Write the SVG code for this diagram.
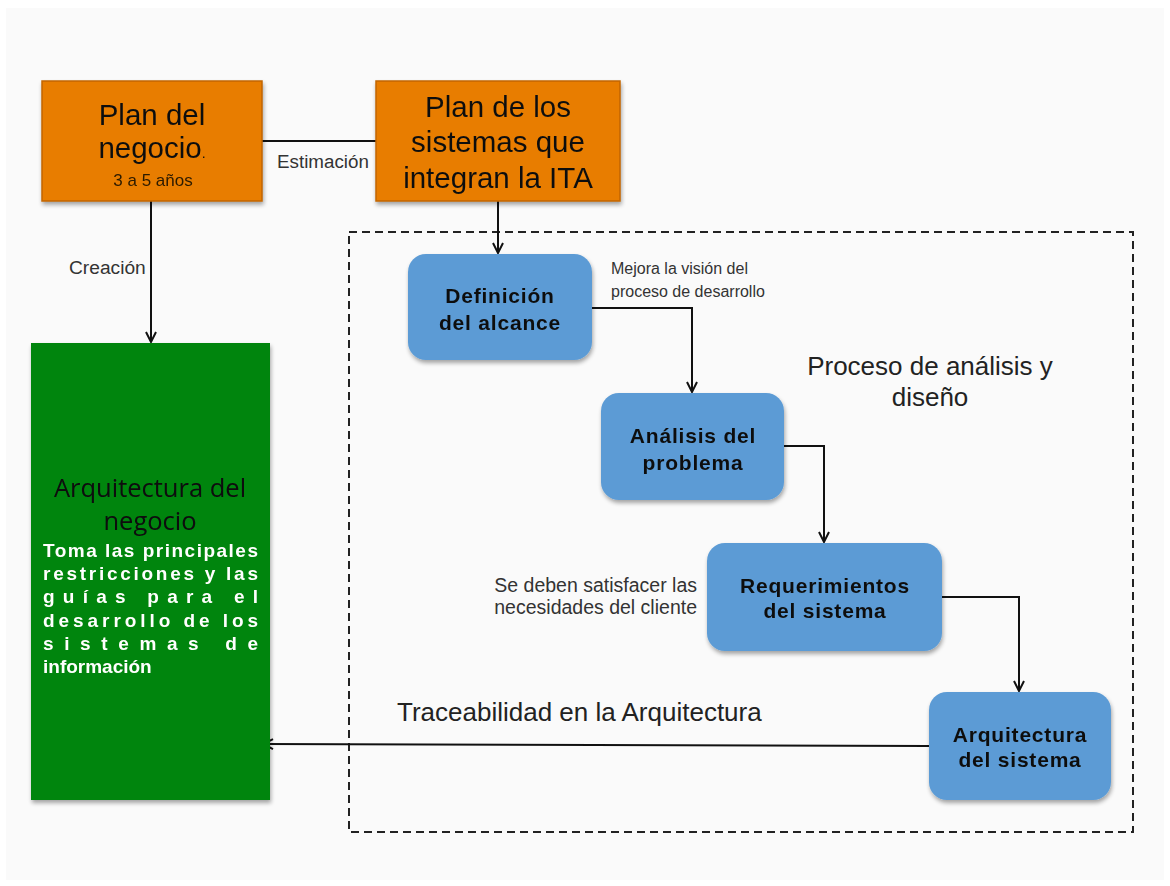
<svg xmlns="http://www.w3.org/2000/svg" width="1170" height="886" viewBox="0 0 1170 886">
  <style>
    .plan { fill: #e87d00; stroke: #c26600; stroke-width: 1.5; }
    .stage { fill: #5b9bd5; }
    .biz { fill: #04850a; }
    .wire { fill: none; stroke: #111; stroke-width: 2; }
    .head { font-family: "Liberation Sans", Arial, sans-serif; font-size: 29.5px; fill: #111; text-anchor: middle; }
    .small { font-family: "Liberation Sans", Arial, sans-serif; font-size: 16px; fill: #333; }
    .mid { font-family: "Liberation Sans", Arial, sans-serif; font-size: 19.5px; fill: #333; }
    .stg { font-family: "Liberation Sans", Arial, sans-serif; font-size: 21px; font-weight: bold; letter-spacing: 0.8px; fill: #111; text-anchor: middle; }
    .big { font-family: "Liberation Sans", Arial, sans-serif; font-size: 26px; fill: #222; }
    .body { font-family: "Liberation Sans", Arial, sans-serif; font-size: 19px; font-weight: bold; fill: #fff; }
  </style>
  <defs>
    <filter id="shadow" x="-10%" y="-10%" width="125%" height="125%">
      <feGaussianBlur in="SourceAlpha" stdDeviation="2"/>
      <feOffset dx="1" dy="3" result="b"/>
      <feComponentTransfer><feFuncA type="linear" slope="0.35"/></feComponentTransfer>
      <feMerge><feMergeNode/><feMergeNode in="SourceGraphic"/></feMerge>
    </filter>
    <marker id="open" viewBox="0 0 12 12" refX="11" refY="6" markerWidth="12" markerHeight="12" markerUnits="userSpaceOnUse" orient="auto">
      <path d="M1,1 L11,6 L1,11" fill="none" stroke="#111" stroke-width="2"/>
    </marker>
  </defs>

  <!-- page -->
  <rect x="0" y="0" width="1170" height="886" fill="#ffffff"/>
  <rect x="6" y="8" width="1158" height="872" fill="#fafafa"/>

  <!-- analysis & design frame -->
  <rect x="349" y="232" width="784" height="600" fill="none" stroke="#222" stroke-width="2" stroke-dasharray="8 5"/>

  <!-- connectors -->
  <g id="connectors">
    <line class="wire" x1="262" y1="141" x2="376" y2="141"/>
    <path class="wire" d="M151,201 L151,342" marker-end="url(#open)"/>
    <path class="wire" d="M498,201 L498,253" marker-end="url(#open)"/>
    <path class="wire" d="M592,308 L692,308 L692,392" marker-end="url(#open)"/>
    <path class="wire" d="M784,446 L824,446 L824,542" marker-end="url(#open)"/>
    <path class="wire" d="M942,597 L1019,597 L1019,691" marker-end="url(#open)"/>
    <path class="wire" d="M929,746 L263,744" marker-end="url(#open)"/>
    <text class="mid" x="277" y="168" style="font-size:18.8px">Estimación</text>
    <text class="mid" x="69" y="274" style="font-size:19.2px">Creación</text>
    <text class="small" x="611" y="274">Mejora la visión del</text>
    <text class="small" x="611" y="297">proceso de desarrollo</text>
    <text class="mid" x="697" y="592" text-anchor="end">Se deben satisfacer las</text>
    <text class="mid" x="697" y="614" text-anchor="end">necesidades del cliente</text>
    <text class="big" x="397" y="721">Traceabilidad en la Arquitectura</text>
  </g>

  <!-- frame caption -->
  <text class="big" x="930" y="375" text-anchor="middle">Proceso de análisis y</text>
  <text class="big" x="930" y="406" text-anchor="middle">diseño</text>

  <g id="plan-negocio" filter="url(#shadow)">
    <rect class="plan" x="42" y="81" width="220" height="120"/>
    <text class="head" x="152" y="125">Plan del</text>
    <text class="head" x="152" y="158">negocio<tspan style="font-size:14px">.</tspan></text>
    <text class="mid" x="153" y="186" text-anchor="middle" style="font-size:17px; fill:#2b1a00">3 a 5 años</text>
  </g>

  <g id="plan-sistemas" filter="url(#shadow)">
    <rect class="plan" x="376" y="81" width="244" height="120"/>
    <text class="head" x="498" y="117">Plan de los</text>
    <text class="head" x="498" y="152">sistemas que</text>
    <text class="head" x="498" y="188">integran la ITA</text>
  </g>

  <g id="arquitectura-negocio" filter="url(#shadow)">
    <rect class="biz" x="31" y="343" width="239" height="457"/>
    <text x="150" y="497" text-anchor="middle" font-family="'Open Sans', 'Liberation Sans', sans-serif" font-size="25.5" fill="#0a0a0a">Arquitectura del</text>
    <text x="150" y="530" text-anchor="middle" font-family="'Open Sans', 'Liberation Sans', sans-serif" font-size="25.5" fill="#0a0a0a">negocio</text>
    <text class="body" x="43" y="557" textLength="215" lengthAdjust="spacing">Toma las principales</text>
    <text class="body" x="43" y="580" textLength="215" lengthAdjust="spacing">restricciones y las</text>
    <text class="body" x="43" y="603" textLength="215" lengthAdjust="spacing">guías para el</text>
    <text class="body" x="43" y="627" textLength="215" lengthAdjust="spacing">desarrollo de los</text>
    <text class="body" x="43" y="650" textLength="215" lengthAdjust="spacing">sistemas de</text>
    <text class="body" x="43" y="673">información</text>
  </g>

  <g id="definicion-alcance" filter="url(#shadow)">
    <rect class="stage" x="408" y="254" width="184" height="106" rx="18"/>
    <text class="stg" x="500" y="303">Definición</text>
    <text class="stg" x="500" y="330">del alcance</text>
  </g>

  <g id="analisis-problema" filter="url(#shadow)">
    <rect class="stage" x="601" y="393" width="183" height="107" rx="18"/>
    <text class="stg" x="693" y="443">Análisis del</text>
    <text class="stg" x="693" y="470">problema</text>
  </g>

  <g id="requerimientos-sistema" filter="url(#shadow)">
    <rect class="stage" x="707" y="543" width="235" height="108" rx="18"/>
    <text class="stg" x="825" y="593">Requerimientos</text>
    <text class="stg" x="825" y="618">del sistema</text>
  </g>

  <g id="arquitectura-sistema" filter="url(#shadow)">
    <rect class="stage" x="929" y="692" width="182" height="108" rx="18"/>
    <text class="stg" x="1020" y="742">Arquitectura</text>
    <text class="stg" x="1020" y="767">del sistema</text>
  </g>
</svg>
